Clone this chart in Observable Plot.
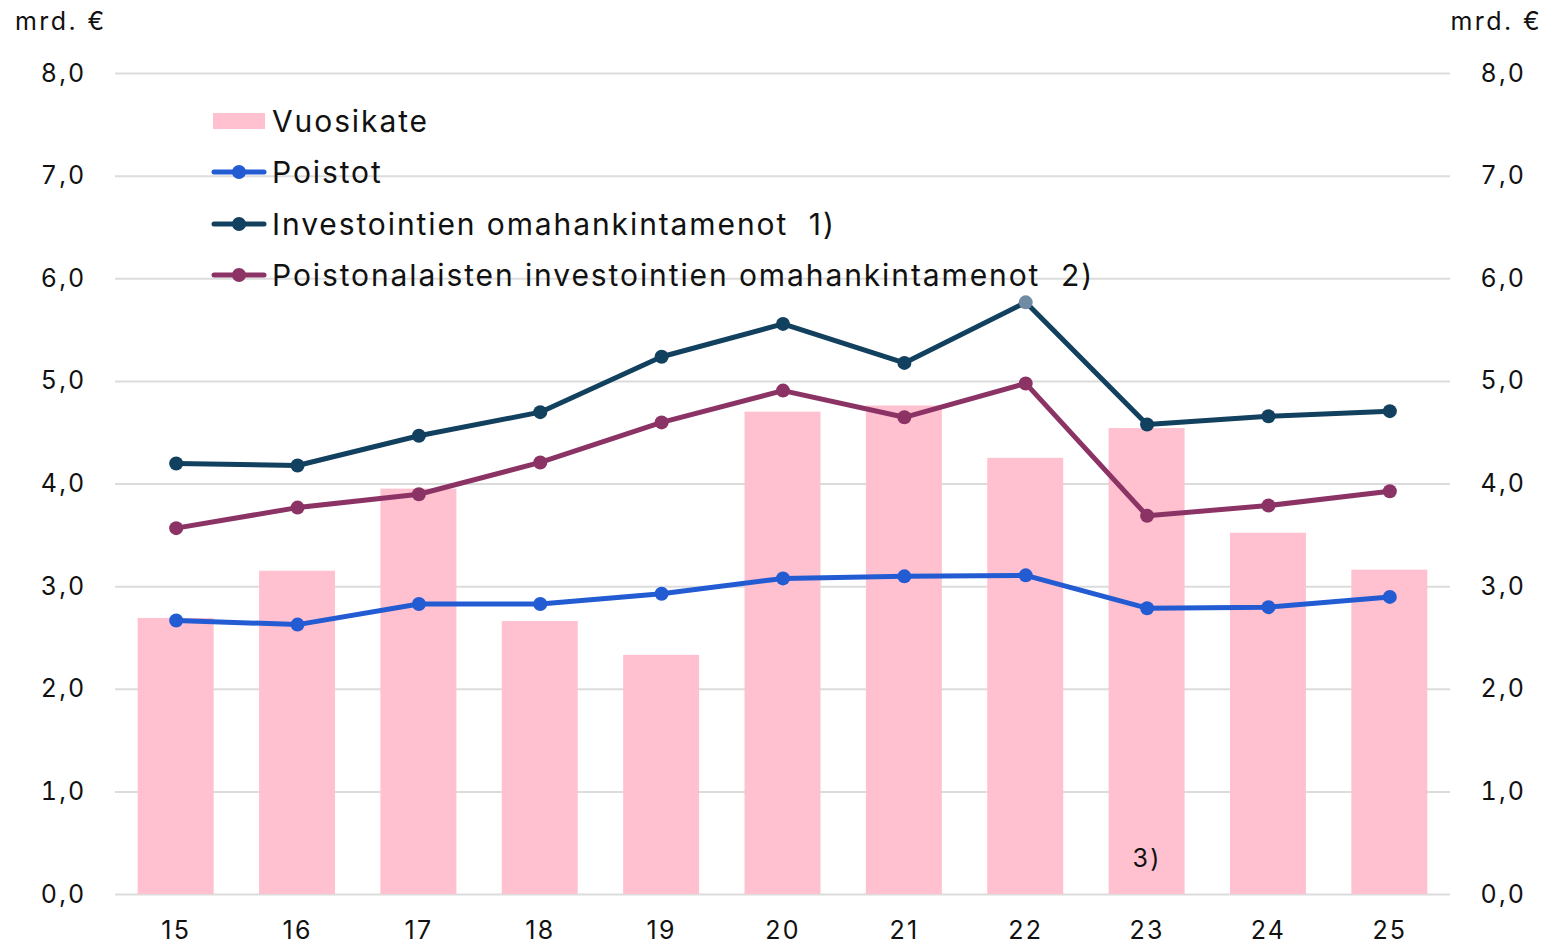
<!DOCTYPE html>
<html>
<head>
<meta charset="utf-8">
<script src="https://cdn.jsdelivr.net/npm/d3@7"></script>
<script src="https://cdn.jsdelivr.net/npm/@observablehq/plot@0.6"></script>
<style>
  html, body { margin: 0; padding: 0; background: #fff; }
  #wrap { position: relative; width: 1548px; height: 947px; overflow: hidden; font-family: Inter, "Noto Sans", sans-serif; color: #111; }
  #legend { position: absolute; left: 211px; top: 95px; font-size: 30px; letter-spacing: 1.9px; }
  .item { display: flex; align-items: center; height: 51.5px; }
  .unit { position: absolute; top: 6px; font-size: 25px; letter-spacing: 2.4px; }
</style>
</head>
<body>
<div id="wrap"></div>
<script>
const years = ["15","16","17","18","19","20","21","22","23","24","25"];
const vuosikate = [2.69,3.15,3.95,2.66,2.33,4.70,4.76,4.25,4.54,3.52,3.16];
const poistot = [2.67,2.63,2.83,2.83,2.93,3.08,3.10,3.11,2.79,2.80,2.90];
const investoinnit = [4.20,4.18,4.47,4.70,5.24,5.56,5.18,5.77,4.58,4.66,4.71];
const poistonalaiset = [3.57,3.77,3.90,4.21,4.60,4.91,4.65,4.98,3.69,3.79,3.93];
const yTicks = [0,1,2,3,4,5,6,7,8];

const names = ["Vuosikate","Poistot","Investointien omahankintamenot  1)","Poistonalaisten investointien omahankintamenot  2)"];
const colors = {bar: "#FFC0CF", poistot: "#235BD3", invest: "#12405F", poiston: "#8C3366"};

const barData = years.map((y,i) => ({year: y, value: vuosikate[i]}));
const mk = arr => years.map((y,i) => ({year: y, value: arr[i]}));
const lineSeries = [
  {data: mk(investoinnit), color: colors.invest},
  {data: mk(poistonalaiset), color: colors.poiston},
  {data: mk(poistot), color: colors.poistot}
];
const fmt = d => d.toFixed(1).replace(".", ",");

const marks = [
  Plot.ruleY(yTicks, {stroke: "#dcdcdc", strokeWidth: 2}),
  Plot.barY(barData, {x: "year", y: "value", fill: colors.bar}),
  Plot.axisY({anchor: "left", ticks: yTicks, tickFormat: fmt, tickSize: 0, tickPadding: 29, fontSize: 25, label: null}),
  Plot.axisY({anchor: "right", ticks: yTicks, tickFormat: fmt, tickSize: 0, tickPadding: 30, fontSize: 25, label: null, textAnchor: "start"}),
  Plot.axisX({tickSize: 0, tickPadding: 27, fontSize: 25, label: null}),
  Plot.text(["3)"], {x: () => "23", y: () => 0.35, fontSize: 25, fill: "#111"})
];
for (const s of lineSeries) {
  marks.push(Plot.line(s.data, {x: "year", y: "value", stroke: s.color, strokeWidth: 5}));
  marks.push(Plot.dot(s.data, {x: "year", y: "value", r: 7, fill: d => (s.color === colors.invest && d.year === "22") ? "#6F8CA4" : s.color, stroke: null}));
}

const chart = Plot.plot({
  width: 1548,
  height: 947,
  marginTop: 73,
  marginBottom: 53,
  marginLeft: 115,
  marginRight: 98,
  style: {fontFamily: "Inter, 'Noto Sans', sans-serif", color: "#111", background: "#fff", overflow: "visible", letterSpacing: "2.2px"},
  x: {type: "band", domain: years, paddingInner: 0.374, paddingOuter: 0.187, round: false},
  y: {domain: [0, 8]},
  color: {type: "identity"},
  marks
});

const wrap = document.getElementById("wrap");
wrap.appendChild(chart);

// units
const u1 = document.createElement("div"); u1.className = "unit"; u1.style.left = "15px"; u1.textContent = "mrd. €"; wrap.appendChild(u1);
const u2 = document.createElement("div"); u2.className = "unit"; u2.style.right = "6px"; u2.textContent = "mrd. €"; wrap.appendChild(u2);

// legend
const legend = document.createElement("div"); legend.id = "legend";
const swatchColors = [colors.bar, colors.poistot, colors.invest, colors.poiston];
names.forEach((n, i) => {
  const item = document.createElement("div"); item.className = "item";
  const sw = document.createElementNS("http://www.w3.org/2000/svg", "svg");
  sw.setAttribute("width", 56); sw.setAttribute("height", 20); sw.style.marginRight = "5px";
  if (i === 0) {
    sw.innerHTML = `<rect x="2" y="2" width="52" height="16" fill="${swatchColors[i]}"/>`;
  } else {
    sw.innerHTML = `<line x1="3" x2="53" y1="10" y2="10" stroke="${swatchColors[i]}" stroke-width="5" stroke-linecap="round"/><circle cx="28" cy="10" r="7" fill="${swatchColors[i]}"/>`;
  }
  item.appendChild(sw);
  const t = document.createElement("span"); t.textContent = n; t.style.whiteSpace = "pre";
  item.appendChild(t);
  legend.appendChild(item);
});
wrap.appendChild(legend);
</script>
</body>
</html>
